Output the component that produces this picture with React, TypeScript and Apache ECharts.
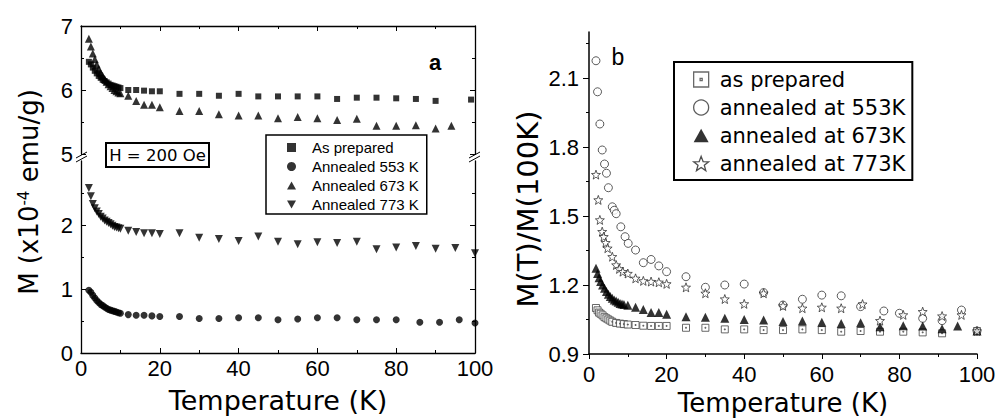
import React, { useEffect, useRef } from "react";
import * as echarts from "echarts";

// ---------- Panel (a): M (x10^-4 emu/g) vs T ----------
const aPrepT = [2, 2.5, 3, 3.5, 4, 4.5, 5, 5.5, 6, 6.5, 7, 7.5, 8, 8.5, 9, 9.5, 10, 12, 14, 16, 18, 20, 25, 30, 35, 40, 45, 50, 55, 60, 65, 70, 75, 80, 85, 90, 99];
const aPrepM = [6.44, 6.4, 6.35, 6.3, 6.26, 6.22, 6.19, 6.16, 6.14, 6.12, 6.1, 6.08, 6.07, 6.06, 6.05, 6.04, 6.03, 6.0, 6.0, 5.99, 5.98, 5.98, 5.94, 5.94, 5.91, 5.94, 5.9, 5.9, 5.9, 5.9, 5.86, 5.88, 5.88, 5.87, 5.86, 5.83, 5.85];

const a553T = [2, 2.5, 3, 3.5, 4, 4.5, 5, 5.5, 6, 6.5, 7, 7.5, 8, 8.5, 9, 9.5, 10, 12, 14, 16, 18, 20, 25, 30, 35, 40, 45, 50, 55, 60, 65, 70, 75, 80, 86, 91, 96, 100];
const a553M = [0.98, 0.95, 0.9, 0.86, 0.82, 0.79, 0.76, 0.74, 0.72, 0.7, 0.68, 0.67, 0.66, 0.65, 0.64, 0.63, 0.62, 0.6, 0.59, 0.59, 0.58, 0.57, 0.57, 0.54, 0.54, 0.55, 0.55, 0.52, 0.53, 0.55, 0.55, 0.52, 0.52, 0.52, 0.48, 0.48, 0.52, 0.47];

const a673T = [2, 2.5, 3, 3.5, 4, 4.5, 5, 5.5, 6, 6.5, 7, 7.5, 8, 8.5, 9, 9.5, 10, 12, 14, 16, 18, 20, 25, 30, 35, 40, 45, 50, 55, 60, 65, 70, 75, 80, 85, 90, 94];
const a673M = [6.8, 6.68, 6.57, 6.48, 6.4, 6.33, 6.27, 6.22, 6.17, 6.13, 6.09, 6.06, 6.03, 6.0, 5.98, 5.96, 5.95, 5.91, 5.83, 5.77, 5.77, 5.73, 5.67, 5.67, 5.62, 5.6, 5.6, 5.56, 5.58, 5.56, 5.53, 5.55, 5.44, 5.44, 5.45, 5.4, 5.44];

const a773T = [2, 2.5, 3, 3.5, 4, 4.5, 5, 5.5, 6, 6.5, 7, 7.5, 8, 8.5, 9, 9.5, 10, 12, 14, 16, 18, 20, 25, 30, 35, 40, 45, 50, 55, 60, 65, 70, 75, 80, 85, 90, 95, 100];
const a773M = [2.58, 2.45, 2.33, 2.26, 2.21, 2.17, 2.13, 2.1, 2.07, 2.05, 2.03, 2.01, 1.99, 1.97, 1.96, 1.95, 1.94, 1.91, 1.89, 1.87, 1.87, 1.86, 1.87, 1.8, 1.78, 1.75, 1.82, 1.74, 1.7, 1.73, 1.72, 1.74, 1.62, 1.65, 1.67, 1.63, 1.64, 1.56];

const aNames = ["As prepared", "Annealed 553 K", "Annealed 673 K", "Annealed 773 K"];

// ---------- Panel (b): M(T)/M(100K) vs T ----------
const bPrepT = [1.8, 2.2, 2.6, 3, 3.5, 4, 4.5, 5, 5.5, 6, 7, 8, 9, 10, 12, 14, 16, 18, 20, 25, 30, 35, 40, 45, 50, 55, 60, 65, 70, 75, 81, 86, 91, 100];
const bPrepR = [1.1, 1.09, 1.08, 1.075, 1.068, 1.06, 1.055, 1.05, 1.045, 1.04, 1.035, 1.032, 1.03, 1.028, 1.026, 1.023, 1.022, 1.022, 1.022, 1.014, 1.014, 1.007, 1.007, 1.004, 1.004, 1.007, 1.004, 0.997, 1.0, 0.997, 0.997, 0.994, 0.99, 1.0];

const b553T = [1.8, 2.2, 2.8, 3.4, 4, 4.5, 5, 6, 6.5, 7, 8.2, 9.3, 10.1, 12, 14, 16, 18, 20, 25, 30, 35, 40, 45, 50, 55, 60, 65, 70, 76, 80, 86, 91, 96, 100];
const b553R = [2.175, 2.04, 1.9, 1.787, 1.726, 1.686, 1.623, 1.54, 1.525, 1.51, 1.453, 1.41, 1.381, 1.352, 1.297, 1.311, 1.283, 1.258, 1.236, 1.19, 1.2, 1.204, 1.167, 1.113, 1.138, 1.156, 1.153, 1.106, 1.087, 1.077, 1.055, 1.045, 1.091, 1.0];

const b673T = [1.8, 2.2, 2.6, 3, 3.5, 4, 4.5, 5, 5.5, 6, 6.5, 7, 7.5, 8, 8.5, 9, 10, 12, 14, 16, 18, 20, 25, 30, 35, 40, 45, 50, 55, 60, 65, 70, 75, 81, 86, 91, 95, 100];
const b673R = [1.273, 1.25, 1.232, 1.215, 1.2, 1.186, 1.172, 1.16, 1.15, 1.142, 1.135, 1.13, 1.125, 1.12, 1.117, 1.115, 1.112, 1.103, 1.094, 1.08, 1.08, 1.073, 1.062, 1.06, 1.055, 1.05, 1.048, 1.041, 1.044, 1.038, 1.033, 1.036, 1.019, 1.023, 1.022, 1.01, 1.022, 1.0];

const b773T = [1.8, 2.4, 2.8, 3.4, 3.8, 4.3, 4.8, 6, 7, 7.8, 8.7, 10, 12, 14, 16, 18, 20, 25, 30, 35, 40, 45, 50, 55, 60, 65, 70.5, 75, 81, 86, 91, 96, 100];
const b773R = [1.68, 1.57, 1.483, 1.432, 1.41, 1.384, 1.36, 1.323, 1.287, 1.27, 1.258, 1.25, 1.229, 1.218, 1.215, 1.212, 1.205, 1.19, 1.164, 1.139, 1.118, 1.164, 1.109, 1.099, 1.103, 1.099, 1.117, 1.045, 1.07, 1.084, 1.065, 1.07, 1.0];

const bNames = ["as prepared", "annealed at 553K", "annealed at 673K", "annealed at 773K"];

// tick labels
const aUpperLabels = [5, 6, 7];
const aLowerLabels = [0, 1, 2];
const bMajorTicks = [0.9, 1.2, 1.5, 1.8, 2.1];
const bMinorTicks = [1.05, 1.35, 1.65, 1.95, 2.25];

const zip = (xs: number[], ys: number[]) => xs.map((x, i) => [x, ys[i]]);

const TICK_FONT = "Liberation Sans, Arial, Helvetica, sans-serif";
const TITLE_FONT = "DejaVu Sans, Verdana, sans-serif";
const BLACK = "#000";

const STAR =
  "path://M10,0L12.47,6.6L19.51,6.91L13.99,11.3L15.88,18.09L10,14.2L4.12,18.09L6.01,11.3L0.49,6.91L7.53,6.6Z";
const SQUARE_DOT = "path://M0,0H10V10H0Z M4.3,4.3H5.7V5.7H4.3Z";
const TRI_DOWN = "path://M0,0L10,0L5,9Z";
const TRI_UP = "path://M5,0L10,9L0,9Z";

const axisLine = { show: true, onZero: false, lineStyle: { color: BLACK, width: 1.3 } };
const tickLine = { color: BLACK, width: 1 };

function buildOption() {
  const baseX = {
    type: "value",
    min: 0,
    max: 100,
    interval: 20,
    splitLine: { show: false },
    minorSplitLine: { show: false },
    axisLine,
  };
  const leftXLabel = {
    show: true,
    fontSize: 22,
    fontFamily: TICK_FONT,
    color: BLACK,
    margin: 4,
  };
  return {
    animation: false,
    backgroundColor: "#fff",
    grid: [
      { left: 81, top: 26, width: 394, height: 128, outerBoundsMode: "none" },
      { left: 81, top: 161, width: 394, height: 192, outerBoundsMode: "none" },
      { left: 589, top: 32, width: 388, height: 322, outerBoundsMode: "none" },
    ],
    xAxis: [
      {
        ...baseX,
        gridIndex: 0,
        position: "top",
        axisTick: { show: true, inside: true, length: 5, lineStyle: tickLine },
        minorTick: { show: true, splitNumber: 2, length: 3, lineStyle: tickLine },
        axisLabel: { show: false },
      },
      {
        ...baseX,
        gridIndex: 1,
        position: "bottom",
        axisTick: { show: true, inside: true, length: 5, lineStyle: tickLine },
        minorTick: { show: true, splitNumber: 2, length: 3, lineStyle: tickLine },
        axisLabel: leftXLabel,
        name: "Temperature (K)",
        nameLocation: "middle",
        nameGap: 34,
        nameTextStyle: { fontSize: 27, fontFamily: TITLE_FONT, color: BLACK },
      },
      {
        ...baseX,
        gridIndex: 2,
        position: "bottom",
        axisLine: { show: true, onZero: false, lineStyle: { color: BLACK, width: 1.5 } },
        axisTick: { show: true, inside: false, length: 5, lineStyle: tickLine },
        minorTick: { show: true, splitNumber: 2, length: 3, lineStyle: tickLine },
        axisLabel: { ...leftXLabel, margin: 9 },
        name: "Temperature (K)",
        nameLocation: "middle",
        nameGap: 33,
        nameTextStyle: { fontSize: 26, fontFamily: TITLE_FONT, color: BLACK },
      },
    ],
    yAxis: [
      {
        type: "value",
        gridIndex: 0,
        position: "left",
        min: 5,
        max: 7,
        interval: 1,
        axisLine,
        splitLine: { show: false },
        axisTick: { show: true, inside: true, length: 5, lineStyle: tickLine },
        minorTick: { show: true, splitNumber: 2, length: 3, lineStyle: tickLine },
        axisLabel: { show: true, customValues: aUpperLabels, fontSize: 22, fontFamily: TICK_FONT, color: BLACK, margin: 8 },
      },
      {
        type: "value",
        gridIndex: 0,
        position: "right",
        min: 5,
        max: 7,
        interval: 1,
        axisLine,
        splitLine: { show: false },
        axisTick: { show: true, inside: true, length: 5, lineStyle: tickLine },
        minorTick: { show: true, splitNumber: 2, length: 3, lineStyle: tickLine },
        axisLabel: { show: false },
      },
      {
        type: "value",
        gridIndex: 1,
        position: "left",
        min: 0,
        max: 3,
        interval: 1,
        axisLine,
        splitLine: { show: false },
        axisTick: { show: true, inside: true, length: 5, customValues: aLowerLabels, lineStyle: tickLine },
        minorTick: { show: true, splitNumber: 2, length: 3, lineStyle: tickLine },
        axisLabel: { show: true, customValues: aLowerLabels, fontSize: 22, fontFamily: TICK_FONT, color: BLACK, margin: 8 },
      },
      {
        type: "value",
        gridIndex: 1,
        position: "right",
        min: 0,
        max: 3,
        interval: 1,
        axisLine,
        splitLine: { show: false },
        axisTick: { show: true, inside: true, length: 5, customValues: aLowerLabels, lineStyle: tickLine },
        minorTick: { show: true, splitNumber: 2, length: 3, lineStyle: tickLine },
        axisLabel: { show: false },
      },
      {
        type: "value",
        gridIndex: 2,
        position: "left",
        min: 0.9,
        max: 2.3,
        axisLine: { show: true, onZero: false, lineStyle: { color: BLACK, width: 1.5 } },
        splitLine: { show: false },
        axisTick: { show: true, inside: false, length: 6, customValues: bMajorTicks, lineStyle: tickLine },
        axisLabel: {
          show: true,
          customValues: bMajorTicks,
          formatter: (v: number) => v.toFixed(1),
          fontSize: 22,
          fontFamily: TICK_FONT,
          color: BLACK,
          margin: 10,
        },
      },
      {
        type: "value",
        gridIndex: 2,
        position: "left",
        min: 0.9,
        max: 2.3,
        axisLine: { show: false, onZero: false },
        splitLine: { show: false },
        axisTick: { show: true, inside: false, length: 3, customValues: bMinorTicks, lineStyle: tickLine },
        axisLabel: { show: false },
      },
    ],
    legend: [
      {
        data: [
          { name: aNames[0], icon: "rect" },
          { name: aNames[1], icon: "circle" },
          { name: aNames[2], icon: TRI_UP },
          { name: aNames[3], icon: TRI_DOWN },
        ],
        orient: "vertical",
        left: 266,
        top: 135,
        padding: [5, 8, 2, 21],
        itemWidth: 9,
        itemHeight: 9,
        itemGap: 4,
        selectedMode: false,
        borderColor: BLACK,
        borderWidth: 1.5,
        backgroundColor: "#fff",
        formatter: (name: string) => "{t|" + name + "}",
        textStyle: {
          fontSize: 15,
          fontFamily: TICK_FONT,
          color: BLACK,
          rich: { t: { fontSize: 15, fontFamily: TICK_FONT, color: BLACK, padding: [0, 0, 0, 11] } },
        },
      },
      {
        data: [
          { name: bNames[0], icon: SQUARE_DOT },
          { name: bNames[1], icon: "circle" },
          { name: bNames[2], icon: TRI_UP },
          { name: bNames[3], icon: STAR },
        ],
        orient: "vertical",
        left: 674,
        top: 62,
        padding: [7, 7, 6, 19],
        itemWidth: 15,
        itemHeight: 15,
        itemGap: 7,
        selectedMode: false,
        borderColor: BLACK,
        borderWidth: 2,
        backgroundColor: "#fff",
        itemStyle: { borderWidth: 1.3 },
        formatter: (name: string) => "{t|" + name + "}",
        textStyle: {
          fontSize: 21,
          fontFamily: TITLE_FONT,
          color: BLACK,
          rich: { t: { fontSize: 21, fontFamily: TITLE_FONT, color: BLACK, padding: [0, 0, 0, 6] } },
        },
      },
    ],
    series: [
      {
        name: aNames[0],
        type: "scatter",
        xAxisIndex: 0,
        yAxisIndex: 0,
        symbol: "rect",
        symbolSize: 6,
        itemStyle: { color: BLACK },
        data: zip(aPrepT, aPrepM),
      },
      {
        name: aNames[1],
        type: "scatter",
        xAxisIndex: 1,
        yAxisIndex: 2,
        symbol: "circle",
        symbolSize: 7,
        itemStyle: { color: BLACK },
        data: zip(a553T, a553M),
      },
      {
        name: aNames[2],
        type: "scatter",
        xAxisIndex: 0,
        yAxisIndex: 0,
        symbol: "triangle",
        symbolSize: 8,
        itemStyle: { color: BLACK },
        data: zip(a673T, a673M),
      },
      {
        name: aNames[3],
        type: "scatter",
        xAxisIndex: 1,
        yAxisIndex: 2,
        symbol: "triangle",
        symbolRotate: 180,
        symbolSize: 8,
        itemStyle: { color: BLACK },
        data: zip(a773T, a773M),
      },
      {
        name: bNames[0],
        type: "scatter",
        xAxisIndex: 2,
        yAxisIndex: 4,
        symbol: SQUARE_DOT,
        symbolSize: 7,
        itemStyle: { color: "#fff", borderColor: "#444", borderWidth: 1 },
        data: zip(bPrepT, bPrepR),
      },
      {
        name: bNames[1],
        type: "scatter",
        xAxisIndex: 2,
        yAxisIndex: 4,
        symbol: "circle",
        symbolSize: 8,
        itemStyle: { color: "#fff", borderColor: "#333", borderWidth: 1 },
        data: zip(b553T, b553R),
      },
      {
        name: bNames[2],
        type: "scatter",
        xAxisIndex: 2,
        yAxisIndex: 4,
        symbol: "triangle",
        symbolSize: 9,
        itemStyle: { color: BLACK },
        data: zip(b673T, b673R),
      },
      {
        name: bNames[3],
        type: "scatter",
        xAxisIndex: 2,
        yAxisIndex: 4,
        symbol: STAR,
        symbolSize: 9,
        itemStyle: { color: "#fff", borderColor: "#222", borderWidth: 0.9 },
        data: zip(b773T, b773R),
      },
    ],
    graphic: [
      {
        type: "text",
        x: 29,
        y: 192,
        rotation: Math.PI / 2,
        style: {
          text: "M (x10{sup|-4} emu/g)",
          fontSize: 26,
          fontFamily: TITLE_FONT,
          fill: BLACK,
          align: "center",
          verticalAlign: "middle",
          rich: { sup: { fontSize: 15, fontFamily: TITLE_FONT, verticalAlign: "top", fill: BLACK } },
        },
      },
      {
        type: "text",
        x: 528,
        y: 209,
        rotation: Math.PI / 2,
        style: {
          text: "M(T)/M(100K)",
          fontSize: 29,
          fontFamily: TITLE_FONT,
          fill: BLACK,
          align: "center",
          verticalAlign: "middle",
        },
      },
      {
        type: "text",
        x: 435,
        y: 62,
        style: { text: "a", fontSize: 22, fontWeight: "bold", fontFamily: TICK_FONT, fill: BLACK, align: "center", verticalAlign: "middle" },
      },
      {
        type: "text",
        x: 618,
        y: 57,
        style: { text: "b", fontSize: 23, fontFamily: TICK_FONT, fill: BLACK, align: "center", verticalAlign: "middle" },
      },
      {
        type: "rect",
        shape: { x: 106, y: 143, width: 103, height: 24 },
        style: { fill: "#fff", stroke: BLACK, lineWidth: 2 },
      },
      {
        type: "text",
        x: 157.5,
        y: 155.5,
        style: { text: "H = 200 Oe", fontSize: 16.5, fontFamily: TITLE_FONT, fill: BLACK, align: "center", verticalAlign: "middle" },
      },
      { type: "line", shape: { x1: 76, y1: 158, x2: 87, y2: 152 }, style: { stroke: BLACK, lineWidth: 1 } },
      { type: "line", shape: { x1: 76, y1: 162, x2: 87, y2: 156 }, style: { stroke: BLACK, lineWidth: 1 } },
      { type: "line", shape: { x1: 469, y1: 158, x2: 480, y2: 152 }, style: { stroke: BLACK, lineWidth: 1 } },
      { type: "line", shape: { x1: 469, y1: 162, x2: 480, y2: 156 }, style: { stroke: BLACK, lineWidth: 1 } },
    ],
  };
}

export default function App() {
  const ref = useRef<HTMLDivElement>(null);
  useEffect(() => {
    if (!ref.current) return;
    const chart = echarts.init(ref.current, null, { renderer: "svg" });
    chart.setOption(buildOption() as any);
    return () => chart.dispose();
  }, []);
  return (
    <div
      ref={ref}
      style={{ position: "fixed", left: 0, top: 0, width: 998, height: 418, background: "#fff" }}
    />
  );
}
